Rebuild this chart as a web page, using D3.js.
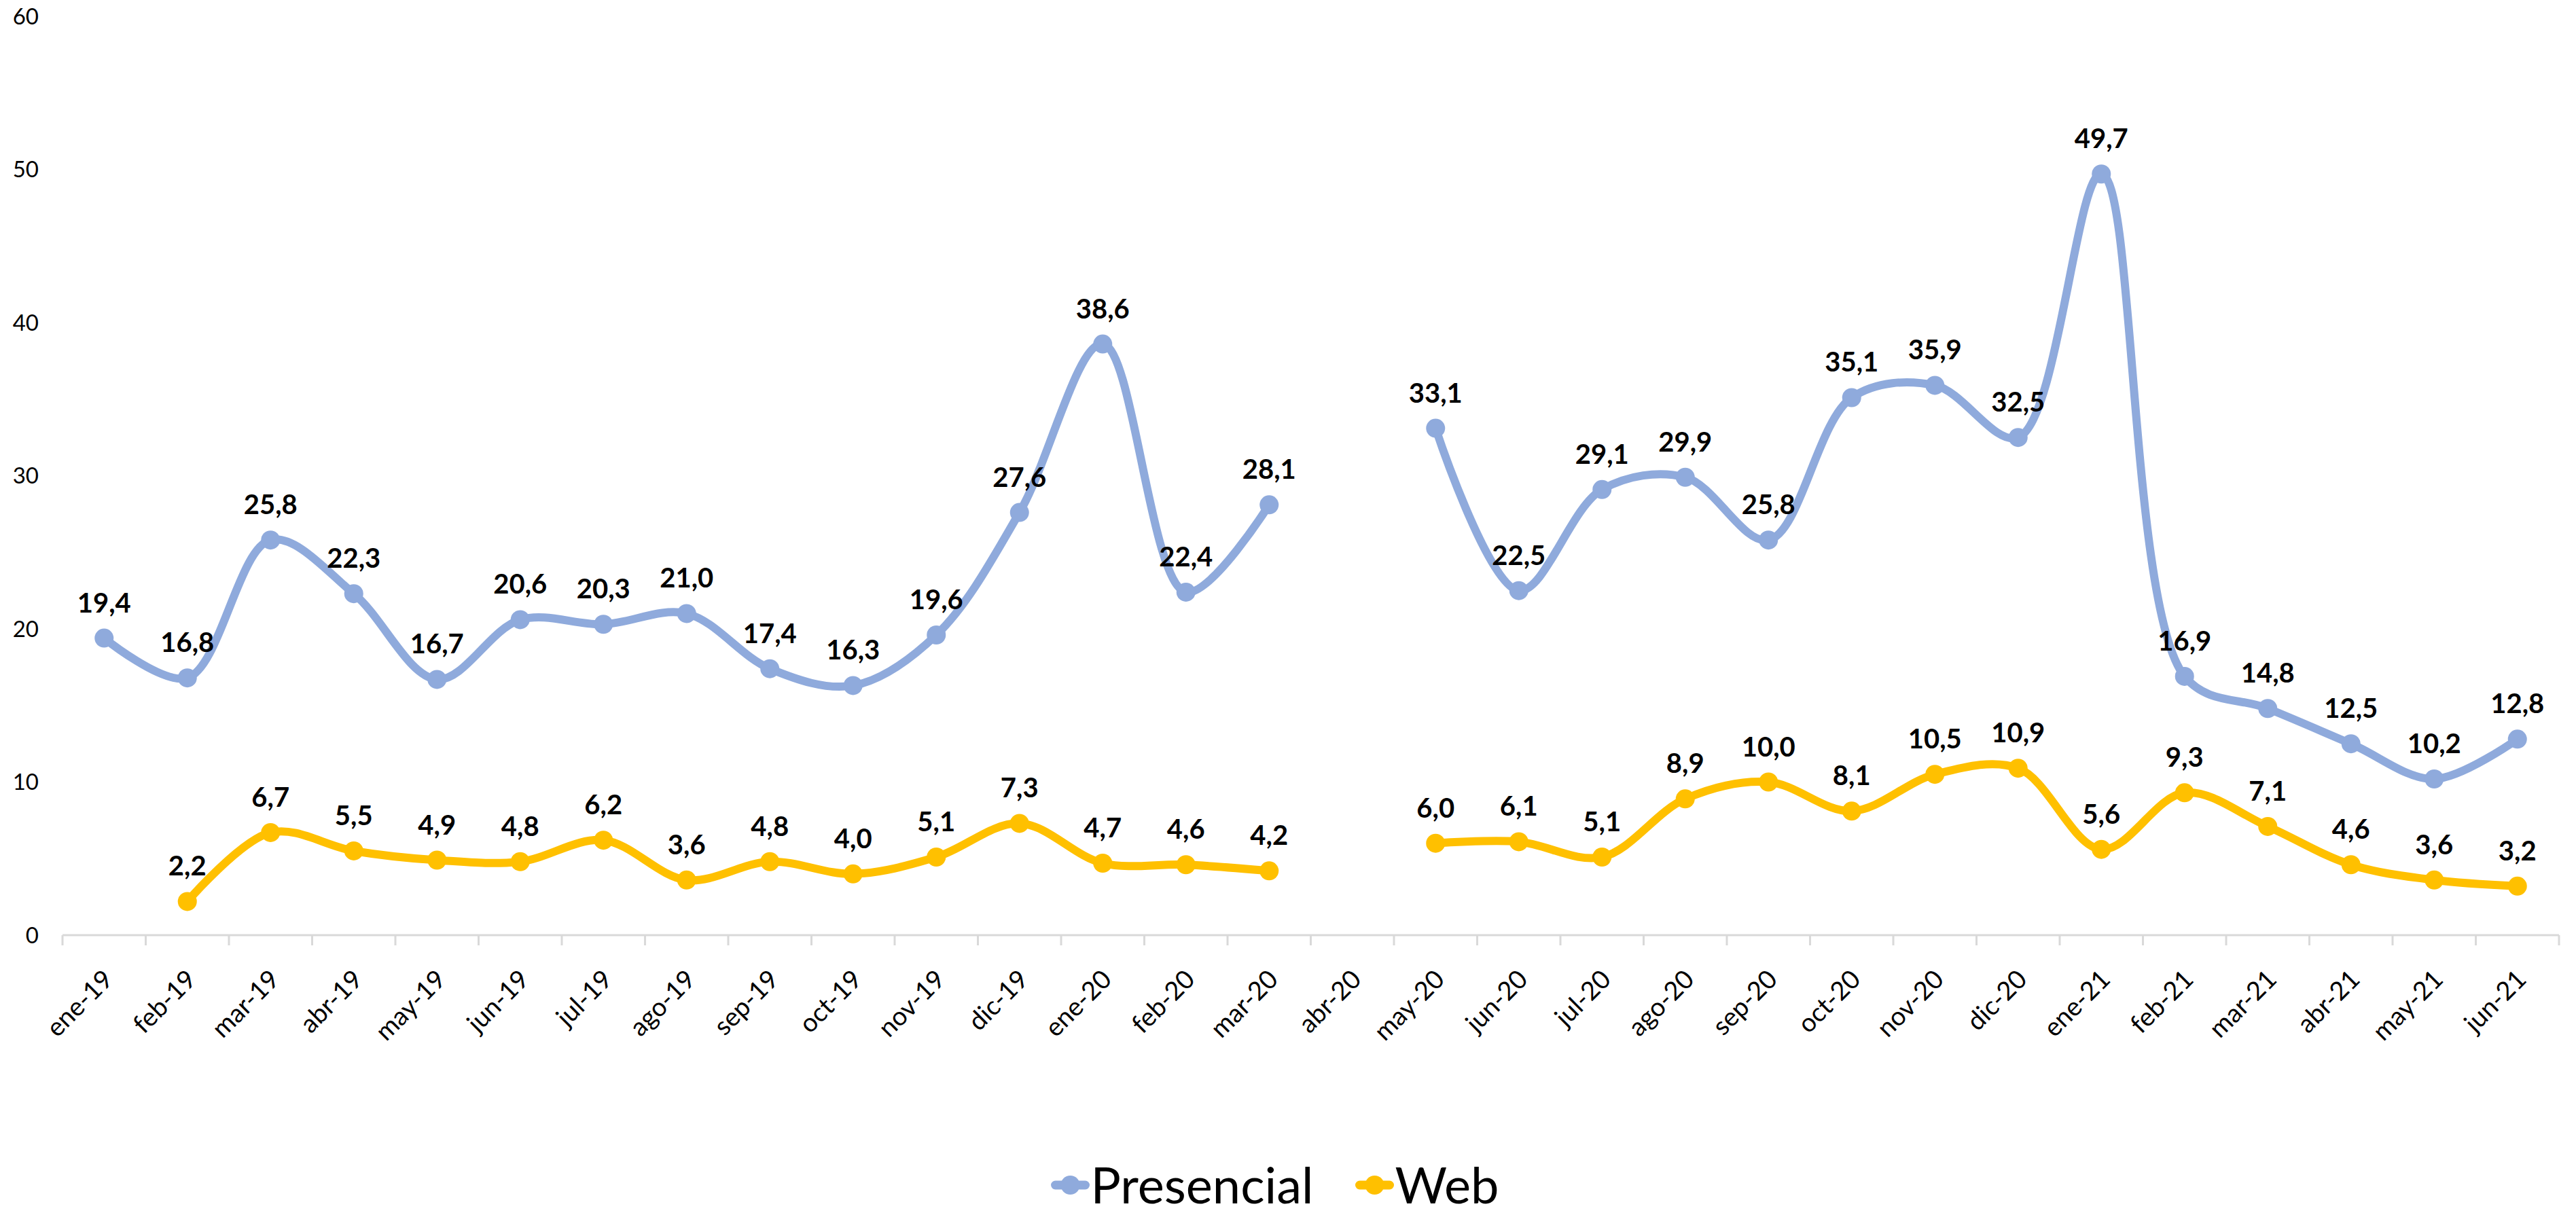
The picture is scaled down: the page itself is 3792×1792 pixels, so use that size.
<!DOCTYPE html>
<html>
<head>
<meta charset="utf-8">
<script src="https://cdn.jsdelivr.net/npm/d3@7"></script>
<style>
  html, body { margin: 0; padding: 0; background: #fff; }
  svg { display: block; font-family: Lato, "Open Sans", sans-serif; }
</style>
</head>
<body>
<div id="chart"></div>
<script>
// ==== DATA ====
const MONTHS = [
  "ene-19","feb-19","mar-19","abr-19","may-19","jun-19","jul-19","ago-19","sep-19","oct-19","nov-19","dic-19",
  "ene-20","feb-20","mar-20","abr-20","may-20","jun-20","jul-20","ago-20","sep-20","oct-20","nov-20","dic-20",
  "ene-21","feb-21","mar-21","abr-21","may-21","jun-21"
];
const PRESENCIAL = [
  19.4, 16.8, 25.8, 22.3, 16.7, 20.6, 20.3, 21.0, 17.4, 16.3, 19.6, 27.6,
  38.6, 22.4, 28.1, null, 33.1, 22.5, 29.1, 29.9, 25.8, 35.1, 35.9, 32.5,
  49.7, 16.9, 14.8, 12.5, 10.2, 12.8
];
const WEB = [
  null, 2.2, 6.7, 5.5, 4.9, 4.8, 6.2, 3.6, 4.8, 4.0, 5.1, 7.3,
  4.7, 4.6, 4.2, null, 6.0, 6.1, 5.1, 8.9, 10.0, 8.1, 10.5, 10.9,
  5.6, 9.3, 7.1, 4.6, 3.6, 3.2
];
const Y_TICKS = [0, 10, 20, 30, 40, 50, 60];
const SERIES = [
  { name: "Presencial", values: PRESENCIAL, color: "#8FAADC" },
  { name: "Web", values: WEB, color: "#FFC000" }
];

// ==== SIZE ====
const width = 3792;
const height = 1792;
const plot = { left: 92, right: 3767, top: 24, bottom: 1377 };

// ==== SCALES ====
const x = d3.scaleBand().domain(MONTHS).range([plot.left, plot.right]);
const y = d3.scaleLinear().domain([0, 60]).range([plot.bottom, plot.top]);
const cx = m => x(m) + x.bandwidth() / 2;

const svg = d3.select("#chart")
  .append("svg")
  .attr("width", width)
  .attr("height", height)
  .attr("viewBox", `0 0 ${width} ${height}`);

// y labels (no axis line, no grid)
svg.append("g")
  .selectAll("text")
  .data(Y_TICKS)
  .join("text")
  .attr("x", 57)
  .attr("y", d => y(d))
  .attr("dy", "0.35em")
  .attr("text-anchor", "end")
  .attr("font-size", 33)
  .attr("fill", "#000")
  .text(d => d);

// x axis line + ticks between categories
const gx = svg.append("g").attr("class", "x axis");
gx.append("line")
  .attr("x1", plot.left).attr("x2", plot.right)
  .attr("y1", plot.bottom).attr("y2", plot.bottom)
  .attr("stroke", "#d9d9d9").attr("stroke-width", 3);

const edges = MONTHS.map(m => x(m)).concat([plot.right]);
gx.selectAll("line.tick")
  .data(edges)
  .join("line")
  .attr("class", "tick")
  .attr("x1", d => d).attr("x2", d => d)
  .attr("y1", plot.bottom).attr("y2", plot.bottom + 15)
  .attr("stroke", "#d9d9d9").attr("stroke-width", 3);

gx.selectAll("text")
  .data(MONTHS)
  .join("text")
  .attr("transform", d => `translate(${cx(d) + 6},${plot.bottom + 58}) rotate(-45)`)
  .attr("dy", "0.35em")
  .attr("text-anchor", "end")
  .attr("font-size", 38)
  .attr("fill", "#000")
  .text(d => d);

// ==== LINES ====
const line = d3.line()
  .defined(d => d.v != null)
  .x(d => cx(d.m))
  .y(d => y(d.v))
  .curve(d3.curveCatmullRom.alpha(0.5));

SERIES.forEach(s => {
  const pts = MONTHS.map((m, i) => ({ m, v: s.values[i] }));
  const g = svg.append("g").attr("class", "series");

  g.append("path")
    .attr("fill", "none")
    .attr("stroke", s.color)
    .attr("stroke-width", 12)
    .attr("stroke-linecap", "round")
    .attr("stroke-linejoin", "round")
    .attr("d", line(pts));

  const valid = pts.filter(d => d.v != null);
  g.selectAll("circle")
    .data(valid)
    .join("circle")
    .attr("cx", d => cx(d.m))
    .attr("cy", d => y(d.v))
    .attr("r", 14)
    .attr("fill", s.color);

  g.selectAll("text")
    .data(valid)
    .join("text")
    .attr("x", d => cx(d.m))
    .attr("y", d => y(d.v) - 38)
    .attr("text-anchor", "middle")
    .attr("font-size", 40)
    .attr("font-weight", "bold")
    .attr("fill", "#000")
    .text(d => d3.format(".1f")(d.v).replace(".", ","));
});

// ==== LEGEND ====
const legend = svg.append("g").attr("class", "legend");
let lx = 0;
SERIES.forEach(s => {
  const row = legend.append("g");
  row.append("line")
    .attr("x1", 6).attr("x2", 50)
    .attr("y1", 0).attr("y2", 0)
    .attr("stroke", s.color).attr("stroke-width", 13)
    .attr("stroke-linecap", "round");
  row.append("circle")
    .attr("cx", 28).attr("cy", 0).attr("r", 14)
    .attr("fill", s.color);
  const t = row.append("text")
    .attr("x", 58)
    .attr("y", 0)
    .attr("dy", "0.36em")
    .attr("font-size", 74)
    .attr("fill", "#000")
    .text(s.name);
  const w = 58 + t.node().getComputedTextLength();
  row.attr("transform", `translate(${lx},0)`);
  lx += w + 62;
});
const legendW = lx - 62;
legend.attr("transform", `translate(${1877 - legendW / 2},1745)`);
</script>
</body>
</html>
